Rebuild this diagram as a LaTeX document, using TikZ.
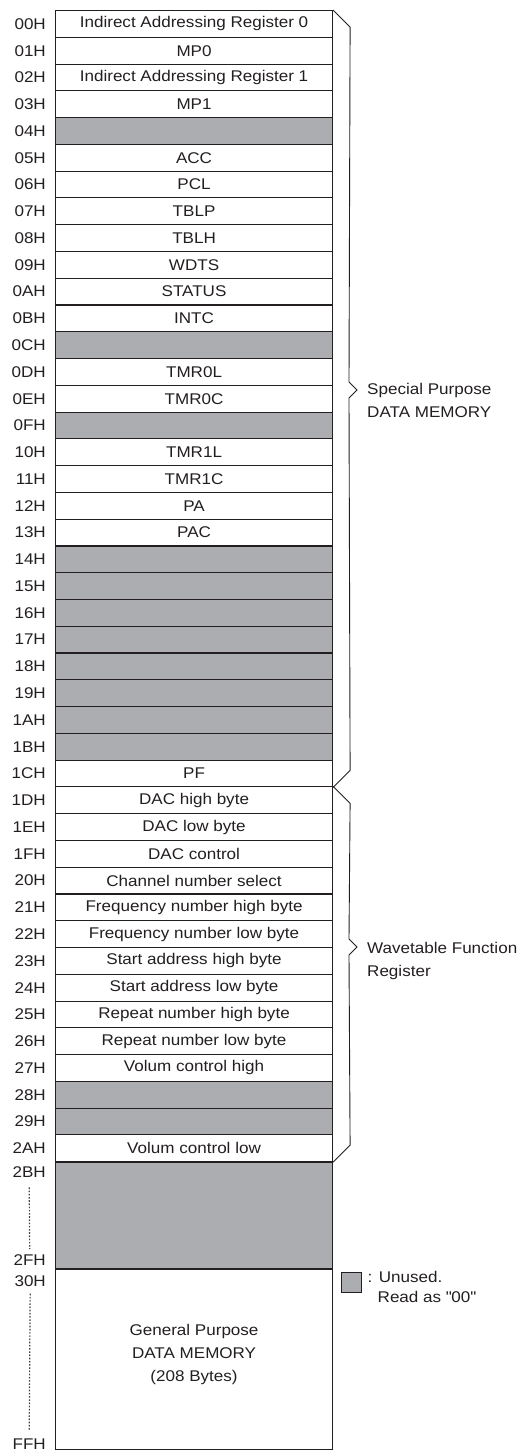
\documentclass[tikz,border=0pt]{standalone}
\usepackage{fontspec}
\setmainfont{Liberation Sans}[FakeStretch=1.1]
\usepackage{xcolor}
\usepackage{tikz}
\usetikzlibrary{positioning}
\definecolor{unused}{HTML}{ABADB0}
\definecolor{ink}{HTML}{231F20}

\begin{document}
\begin{tikzpicture}[x=1pt, y=-1pt,
    every node/.style={font=\fontsize{15.5}{23}\selectfont, text=ink},
    reg/.style={rectangle, draw=ink, line width=1.1pt, minimum width=277pt, minimum height=26.77pt, inner sep=0pt, anchor=north west},
    addr/.style={inner sep=0pt},
    note/.style={inner sep=0pt, align=left},
    brace/.style={draw=ink, line width=0.9pt},
    dots/.style={draw=ink!85, dash pattern=on 1.6pt off 1.6pt, line width=1.2pt},
    legbox/.style={rectangle, draw=ink, fill=unused, line width=1pt, minimum size=20pt, inner sep=0pt}
]
\useasboundingbox (0,0) rectangle (520,1450);
\foreach \a/\t/\f [count=\i from 0] in {
    00H/Indirect Addressing Register 0/white, 01H/MP0/white,
    02H/Indirect Addressing Register 1/white, 03H/MP1/white,
    04H//unused, 05H/ACC/white, 06H/PCL/white, 07H/TBLP/white,
    08H/TBLH/white, 09H/WDTS/white, 0AH/STATUS/white, 0BH/INTC/white,
    0CH//unused, 0DH/TMR0L/white, 0EH/TMR0C/white, 0FH//unused,
    10H/TMR1L/white, 11H/TMR1C/white, 12H/PA/white, 13H/PAC/white,
    14H//unused, 15H//unused, 16H//unused, 17H//unused,
    18H//unused, 19H//unused, 1AH//unused, 1BH//unused,
    1CH/PF/white, 1DH/DAC high byte/white, 1EH/DAC low byte/white,
    1FH/DAC control/white, 20H/Channel number select/white,
    21H/Frequency number high byte/white, 22H/Frequency number low byte/white,
    23H/Start address high byte/white, 24H/Start address low byte/white,
    25H/Repeat number high byte/white, 26H/Repeat number low byte/white,
    27H/Volum control high/white, 28H//unused, 29H//unused,
    2AH/Volum control low/white}
{
    \node[reg, fill=\f] (r\i) at (55,{10+26.77*\i}) {\t};
    \node[addr, left=9pt of r\i] (l\i) {\a};
}

\node[reg, fill=unused, minimum height=106pt] (gap) at (r42.south west) {};
\node[reg, minimum height=180pt] (gp) at (gap.south west) {};
\node[align=center, inner sep=0pt] (gptxt) at ([yshift=5pt]gp.center) {General Purpose\\DATA MEMORY\\(208 Bytes)};

\node[addr, anchor=north east] (l2B) at ([shift={(-9,4)}]gap.north west) {2BH};
\node[addr, anchor=south east] (l2F) at ([shift={(-9,-4)}]gap.south west) {2FH};
\node[addr, anchor=north east] (l30) at ([shift={(-9,6)}]gp.north west) {30H};
\node[addr, anchor=south east] (lFF) at ([shift={(-9,-1)}]gp.south west) {FFH};
\draw[dots] ([yshift=-10pt]l2B.south) -- ([yshift=5pt]l2F.north);
\draw[dots] ([yshift=-7pt]l30.south) -- ([yshift=8pt]lFF.north);

\coordinate (sptip) at (357,390);
\coordinate (wftip) at (357,947);
\draw[brace] (r0.north east) -- ++(17,17) -- ([shift={(-8,-8)}]sptip) -- (sptip)
    -- ([shift={(-8,8)}]sptip) -- ([shift={(17,-17)}]r28.south east) -- (r28.south east);
\draw[brace] (r29.north east) -- ++(17,17) -- ([shift={(-8,-8)}]wftip) -- (wftip)
    -- ([shift={(-8,8)}]wftip) -- ([shift={(17,-17)}]r42.south east) -- (r42.south east);
\node[note, anchor=west] (sp) at ([shift={(10,10)}]sptip) {Special Purpose\\DATA MEMORY};
\node[note, anchor=west] (wf) at ([shift={(10,14)}]wftip) {Wavetable Function\\Register};

\node[legbox] (lg) at (351,1282) {};
\node[note, right=6pt of lg.north east, anchor=north west, font=\fontsize{15.5}{20}\selectfont] (lgtxt) {: Unused.\\\hspace{10pt}Read as \textquotedbl 00\textquotedbl};
\end{tikzpicture}
\end{document}
